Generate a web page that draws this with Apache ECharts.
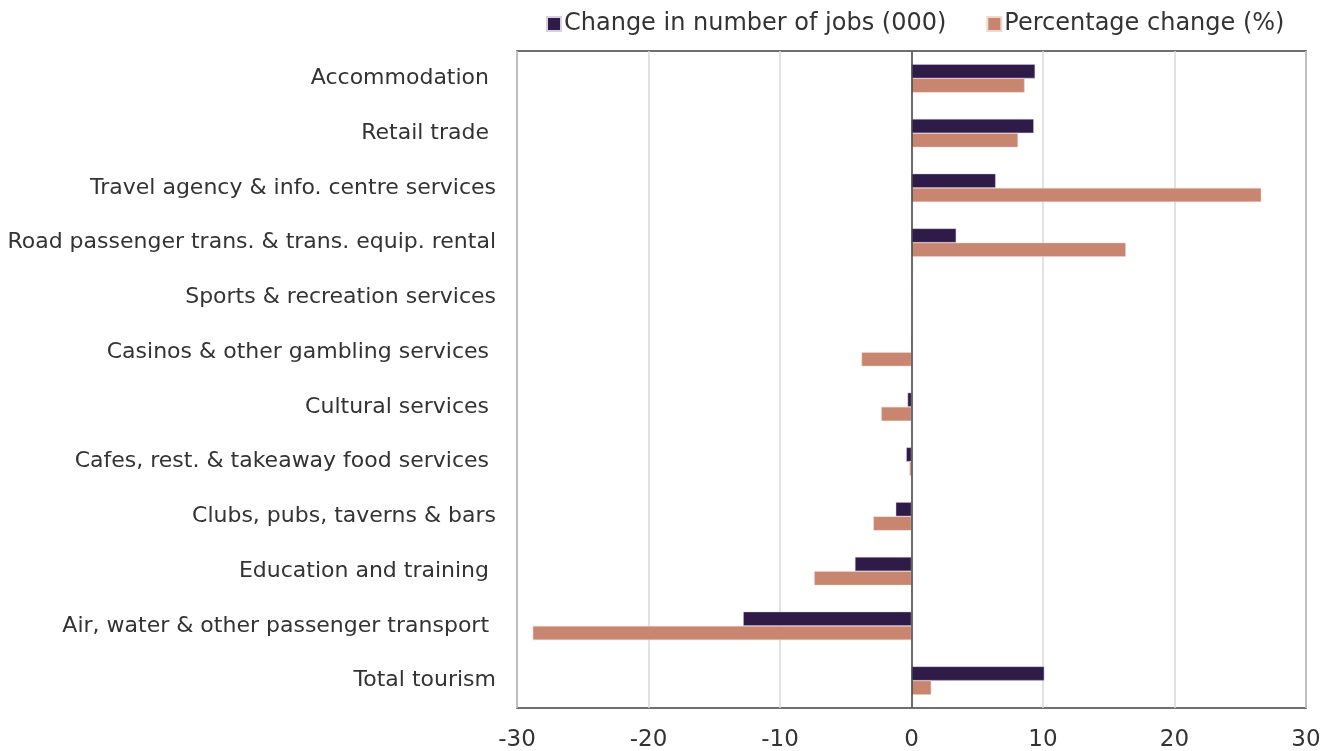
<!DOCTYPE html>
<html>
<head>
<meta charset="utf-8">
<script src="https://cdn.jsdelivr.net/npm/echarts@6/dist/echarts.min.js"></script>
<style>
  html, body { margin: 0; padding: 0; background: #fff; }
  #chart { width: 1335px; height: 751px; }
</style>
</head>
<body>
<div id="chart"></div>
<script>
// data
var categories = [
    "Accommodation ",
    "Retail trade ",
    "Travel agency & info. centre services",
    "Road passenger trans. & trans. equip. rental",
    "Sports & recreation services",
    "Casinos & other gambling services ",
    "Cultural services ",
    "Cafes, rest. & takeaway food services ",
    "Clubs, pubs, taverns & bars",
    "Education and training ",
    "Air, water & other passenger transport ",
    "Total tourism"
];
var jobsChange = [9.4, 9.3, 6.4, 3.4, 0, 0, -0.3, -0.4, -1.2, -4.3, -12.8, 10.1];
var pctChange = [8.6, 8.1, 26.6, 16.3, 0, -3.8, -2.3, -0.15, -2.9, -7.4, -28.8, 1.5];
var xTicks = [-30, -20, -10, 0, 10, 20, 30];

var font = "'DejaVu Sans', Verdana, sans-serif";
var myChart = echarts.init(document.getElementById("chart"));

var option = {
    animation: false,
    textStyle: { fontFamily: font },
    legend: {
        top: 7,
        left: 541,
        itemWidth: 14,
        itemHeight: 14,
        itemGap: 40,
        icon: "rect",
        textStyle: { fontSize: 24, color: "#333", fontFamily: font, padding: [0, 0, 0, -2] },
        data: ["Change in number of jobs (000)", "Percentage change (%)"]
    },
    grid: {
        left: 517,
        right: 29,
        top: 51,
        bottom: 43,
        show: true,
        borderColor: "#404040",
        borderWidth: 1.5,
        containLabel: false,
        outerBoundsMode: "none"
    },
    xAxis: {
        type: "value",
        min: xTicks[0],
        max: xTicks[xTicks.length - 1],
        interval: 10,
        axisLine: { show: false },
        axisTick: { show: false },
        splitLine: { show: true, lineStyle: { color: "#d9d9d9", width: 1.5 } },
        axisLabel: { fontSize: 23, color: "#333", margin: 21, fontFamily: font }
    },
    yAxis: {
        type: "category",
        inverse: true,
        data: categories,
        axisLine: { show: false },
        axisTick: { show: false },
        splitLine: { show: false },
        axisLabel: { fontSize: 22, color: "#333", margin: 21, fontFamily: font }
    },
    series: [
        {
            name: "Change in number of jobs (000)",
            type: "bar",
            data: jobsChange,
            barGap: "0%",
            barCategoryGap: "48%",
            itemStyle: { color: "#2e1b47", borderColor: "#d8cfe0", borderWidth: 0.5 },
            markLine: {
                silent: true,
                symbol: "none",
                label: { show: false },
                lineStyle: { color: "#444", width: 1.5, type: "solid" },
                data: [{ xAxis: 0 }]
            }
        },
        {
            name: "Percentage change (%)",
            type: "bar",
            data: pctChange,
            barGap: "0%",
            barCategoryGap: "48%",
            itemStyle: { color: "#c8856f", borderColor: "#f0d8cf", borderWidth: 0.5 }
        }
    ]
};

myChart.setOption(option);
</script>
</body>
</html>
